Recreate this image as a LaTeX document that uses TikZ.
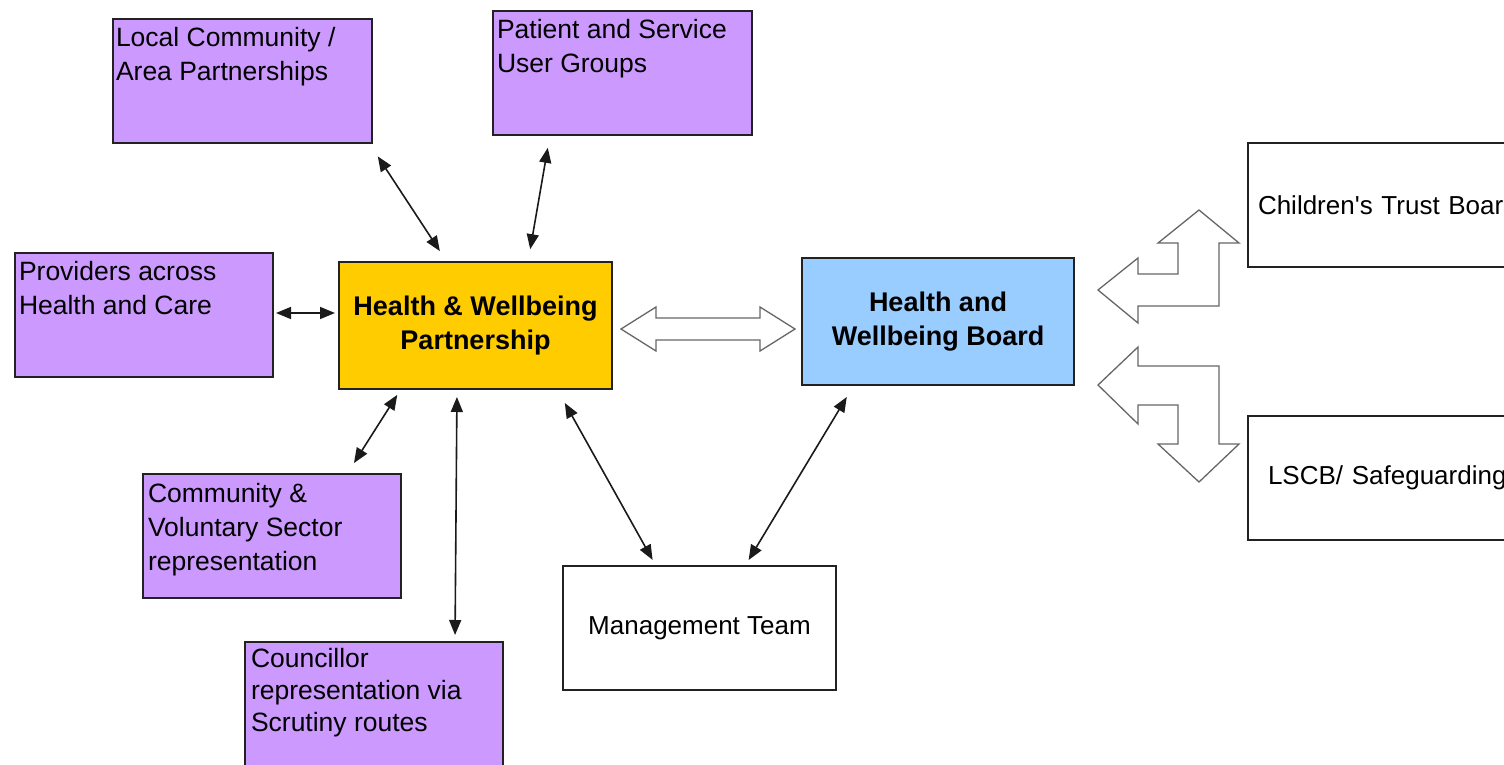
\documentclass[tikz,border=0pt]{standalone}
\usepackage{fontspec}
\setmainfont{Liberation Sans}[Ligatures=TeXOff]
\usetikzlibrary{arrows.meta,calc}
\definecolor{purplebox}{HTML}{CC99FF}
\definecolor{goldbox}{HTML}{FFCC00}
\definecolor{bluebox}{HTML}{99CCFF}
\definecolor{edgecol}{HTML}{222222}
\definecolor{conncol}{HTML}{1A1A1A}
\definecolor{blockcol}{HTML}{666666}
\tikzset{
  box/.style={draw=edgecol, line width=2bp, inner sep=0pt, outer sep=0pt, anchor=north west,
    font=\fontsize{26bp}{34bp}\selectfont},
  pbox/.style={box, fill=purplebox, minimum width=259bp, minimum height=124bp},
  ptext/.style={anchor=north west, inner sep=0pt, outer sep=0pt, align=left,
    font=\fontsize{26.5bp}{34bp}\selectfont},
  boldbox/.style={box, align=center, font=\bfseries\fontsize{27bp}{34bp}\selectfont},
  conn/.style={draw=conncol, line width=1.6bp,
    {Triangle[length=15bp,width=12bp]}-{Triangle[length=15bp,width=12bp]}},
  blockarrow/.style={draw=blockcol, line width=1.3bp, fill=white, line join=miter},
}
\begin{document}
\begin{tikzpicture}[x=1bp,y=-1bp]
\useasboundingbox (0,0) rectangle (1504,764);
\clip (0,0) rectangle (1504,764);

% purple boxes
\node[pbox] (loc) at (113,19) {};
\node[pbox] (pat) at (493,11) {};
\node[pbox, minimum width=258bp] (prov) at (15,253) {};
\node[pbox, minimum width=258bp] (comm) at (143,474) {};
\node[pbox, minimum width=258bp, minimum height=150bp] (coun) at (245,642) {};

\node[ptext] (loct) at (116,26) {\rule{0pt}{20bp}Local Community /\\Area Partnerships};
\node[ptext] (patt) at (497,18) {\rule{0pt}{20bp}Patient and Service\\User Groups};
\node[ptext] (provt) at (19,260) {\rule{0pt}{20bp}Providers across\\Health and Care};
\node[ptext] (commt) at (148,482) {\rule{0pt}{20bp}Community \&\\Voluntary Sector\\representation};
\node[ptext, font=\fontsize{26.5bp}{32bp}\selectfont] (count) at (251,647) {\rule{0pt}{20bp}Councillor\\representation via\\Scrutiny routes};

% central boxes
\node[boldbox, fill=goldbox, minimum width=273bp, minimum height=127bp] (hwp) at (339,262) {Health \& Wellbeing\\Partnership};
\node[boldbox, fill=bluebox, minimum width=272bp, minimum height=127bp] (hwb) at (802,258) {Health and\\Wellbeing Board};
\node[box, fill=white, minimum width=273bp, minimum height=124bp] (mgmt) at (563,566) {Management Team};
\node[box, fill=white, minimum height=124bp, inner xsep=10bp, text width=270bp, align=left] (ctb) at (1248,143) {Children\textquotesingle s Trust Board};
\node[box, fill=white, minimum height=124bp, inner xsep=20bp, text width=260bp, align=left] (lscb) at (1248,416) {LSCB/ Safeguarding};

% connectors
\draw[conn, shorten <=16bp, shorten >=13bp] ($(loc.south east)+(-3,0)$) -- ($(hwp.north west)+(108,0)$);
\draw[conn, shorten <=13bp, shorten >=13bp] ($(pat.south west)+(57,0)$) -- ($(hwp.north west)+(189,0)$);
\draw[conn, shorten <=3bp, shorten >=4bp] ($(prov.north east)+(0,60)$) -- ($(hwp.north west)+(0,51)$);
\draw[conn, shorten <=7bp, shorten >=13bp] ($(hwp.south west)+(62,0)$) -- ($(comm.north west)+(204,0)$);
\draw[conn, shorten <=8bp, shorten >=7bp] ($(hwp.south west)+(118,0)$) -- ($(coun.north west)+(210,0)$);
\draw[conn, shorten <=16bp, shorten >=7bp] ($(hwp.south east)+(-55,0)$) -- ($(mgmt.north west)+(93,0)$);
\draw[conn, shorten <=14bp, shorten >=7bp] ($(hwb.south west)+(52,0)$) -- ($(mgmt.north west)+(182,0)$);

% block arrows
\draw[blockarrow] (621,329) -- (656,307) -- (656,318) -- (760,318) -- (760,307) -- (795,329)
  -- (760,351) -- (760,340) -- (656,340) -- (656,351) -- cycle;
\draw[blockarrow] (1098,290) -- (1138,258) -- (1138,274) -- (1178,274) -- (1178,243) -- (1158,243)
  -- (1199,210) -- (1239,243) -- (1219,243) -- (1219,306) -- (1138,306) -- (1138,323) -- cycle;
\draw[blockarrow] (1098,385) -- (1138,347) -- (1138,366) -- (1219,366) -- (1219,444) -- (1239,444)
  -- (1199,482) -- (1158,444) -- (1178,444) -- (1178,405) -- (1138,405) -- (1138,424) -- cycle;
\end{tikzpicture}
\end{document}
